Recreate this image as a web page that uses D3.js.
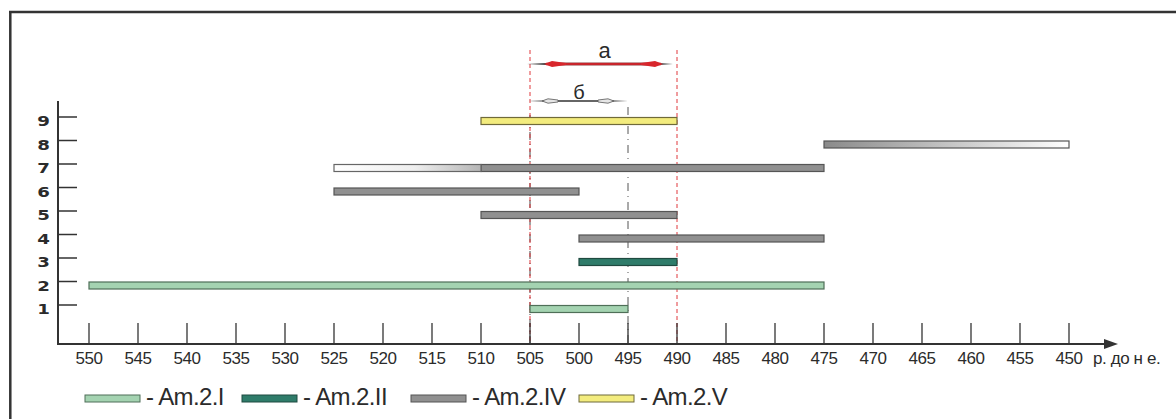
<!DOCTYPE html>
<html><head><meta charset="utf-8">
<script src="https://cdn.jsdelivr.net/npm/d3@7"></script>
<style>
html,body{margin:0;padding:0;background:#fff;}
svg{display:block;}
text{font-family:"Liberation Sans",Arial,sans-serif;fill:#2b2b2b;}
</style></head>
<body>
<svg id="chart" width="1176" height="419"></svg>
<script>
// ---- data ----
const rows      = [1, 2, 3, 4, 5, 6, 7, 8, 9];
const startYear = [505, 550, 500, 500, 510, 525, 510, 475, 510];
const endYear   = [495, 475, 490, 475, 490, 500, 475, 450, 490];
const series    = ["Am.2.I","Am.2.I","Am.2.II","Am.2.IV","Am.2.IV","Am.2.IV","Am.2.IV","Am.2.IV","Am.2.V"];
// faded (uncertain) parts of bars: [row, from, to, direction]
const fadedRows  = [7, 8];
const fadedFrom  = [525, 475];
const fadedTo    = [510, 450];
const fadedDir   = ["in", "out"];
const xTicks = [550,545,540,535,530,525,520,515,510,505,500,495,490,485,480,475,470,465,460,455,450];
const yTicks = [1,2,3,4,5,6,7,8,9];
const legendNames = ["Am.2.I","Am.2.II","Am.2.IV","Am.2.V"];
const intervalA = [505, 490];
const intervalB = [505, 495];
const xUnit = "р. до н е.";

// ---- styles ----
const fillOf = {"Am.2.I":"#a4d3b1","Am.2.II":"#2f7c6a","Am.2.IV":"#909090","Am.2.V":"#f3ec7e"};
const strokeOf = {"Am.2.I":"#4f6f58","Am.2.II":"#1f4a40","Am.2.IV":"#555","Am.2.V":"#6f6a3a"};

const svg = d3.select("#chart");
const x = d3.scaleLinear().domain([550, 450]).range([89, 1069]);
const y = d3.scaleLinear().domain([0, 9]).range([332.5, 121]);
const axisY = 344, axisX = 58;

// gradients
const defs = svg.append("defs");
const gIn = defs.append("linearGradient").attr("id","fadeIn");
gIn.append("stop").attr("offset","0%").attr("stop-color","#ffffff");
gIn.append("stop").attr("offset","55%").attr("stop-color","#eeeeee");
gIn.append("stop").attr("offset","100%").attr("stop-color","#b5b5b5");
const gOut = defs.append("linearGradient").attr("id","fadeOut");
gOut.append("stop").attr("offset","0%").attr("stop-color","#8a8a8a");
gOut.append("stop").attr("offset","60%").attr("stop-color","#cfcfcf");
gOut.append("stop").attr("offset","100%").attr("stop-color","#ffffff");

// frame (top and left edges)
svg.append("line").attr("x1",9).attr("x2",1176).attr("y1",12).attr("y2",12)
  .attr("stroke","#333").attr("stroke-width",2.5);
svg.append("line").attr("x1",10.3).attr("x2",10.3).attr("y1",11).attr("y2",419)
  .attr("stroke","#333").attr("stroke-width",2.5);

// reference verticals
const refs = svg.append("g");
refs.append("line").attr("x1",x(505)).attr("x2",x(505)).attr("y1",115).attr("y2",axisY)
  .attr("stroke","#444").attr("stroke-width",1).attr("stroke-dasharray","8,4,1,4");
refs.append("line").attr("x1",x(495)).attr("x2",x(495)).attr("y1",107).attr("y2",axisY)
  .attr("stroke","#555").attr("stroke-width",1).attr("stroke-dasharray","8,5,1,5");
[intervalA[0], intervalA[1]].forEach(v=>{
  refs.append("line").attr("x1",x(v)).attr("x2",x(v)).attr("y1",50).attr("y2",axisY)
    .attr("stroke","#e0383c").attr("stroke-width",1).attr("stroke-dasharray","4,3");
});

// bars
const bars = svg.append("g");
const bh = 7;
rows.forEach((r,i)=>{
  const isFadedFull = fadedRows.indexOf(r)>=0 && fadedFrom[fadedRows.indexOf(r)]===startYear[i];
  bars.append("rect")
    .attr("x", x(startYear[i])).attr("y", y(r)-bh/2)
    .attr("width", x(endYear[i])-x(startYear[i])).attr("height", bh)
    .attr("fill", isFadedFull ? "url(#fadeOut)" : fillOf[series[i]])
    .attr("stroke", strokeOf[series[i]]).attr("stroke-width",1.2);
});
fadedRows.forEach((r,j)=>{
  const i = rows.indexOf(r);
  if (fadedFrom[j]===startYear[i]) return;
  bars.append("rect")
    .attr("x", x(fadedFrom[j])).attr("y", y(r)-bh/2)
    .attr("width", x(fadedTo[j])-x(fadedFrom[j])).attr("height", bh)
    .attr("fill", fadedDir[j]==="in" ? "url(#fadeIn)" : "url(#fadeOut)")
    .attr("stroke","#666").attr("stroke-width",1.2);
});

// y axis
svg.append("line").attr("x1",axisX).attr("x2",axisX).attr("y1",101).attr("y2",axisY+1)
  .attr("stroke","#333").attr("stroke-width",2);
const yt = svg.append("g");
yTicks.forEach(k=>{
  const ty = y(k)-4;
  yt.append("line").attr("x1",axisX).attr("x2",77).attr("y1",ty).attr("y2",ty)
    .attr("stroke","#333").attr("stroke-width",1.5);
  yt.append("text").attr("transform",`translate(50,${ty+9}) scale(1.3,1)`).attr("text-anchor","end")
    .style("font-family","DejaVu Sans").style("font-weight","bold").style("font-size","14px")
    .attr("fill","#333").text(k);
});

// x axis
svg.append("line").attr("x1",axisX-1).attr("x2",1106).attr("y1",axisY).attr("y2",axisY)
  .attr("stroke","#333").attr("stroke-width",2);
svg.append("path").attr("d",`M1104,${axisY-5}L1118,${axisY}L1104,${axisY+5}Z`).attr("fill","#333");
const xt = svg.append("g");
xTicks.forEach(v=>{
  xt.append("line").attr("x1",x(v)).attr("x2",x(v)).attr("y1",323).attr("y2",axisY)
    .attr("stroke","#333").attr("stroke-width",1.3);
  xt.append("text").attr("x",x(v)).attr("y",364).attr("text-anchor","middle")
    .style("font-size","17px").style("letter-spacing","-0.5px").attr("fill","#3a3a3a").text(v);
});
svg.append("text").attr("x",x(450)+24).attr("y",364).style("font-size","17px")
  .style("letter-spacing","-0.4px").attr("fill","#3a3a3a").text(xUnit);

// interval arrow a
const ay = 64, ax1 = x(intervalA[0]), ax2 = x(intervalA[1]);
svg.append("path").attr("d",`M${ax1-3},${ay}L${ax1+25},${ay-1.2}L${ax2-25},${ay-1.2}L${ax2-4},${ay}L${ax2-25},${ay+1.2}L${ax1+25},${ay+1.2}Z`)
  .attr("fill","#222");
svg.append("line").attr("x1",ax1+16).attr("x2",ax2-16).attr("y1",ay).attr("y2",ay)
  .attr("stroke","#c8252b").attr("stroke-width",2.6);
[[ax1+22,1],[ax2-22,-1]].forEach(([px,d])=>{
  svg.append("path").attr("d",`M${px-d*8},${ay}L${px},${ay-3}L${px+d*14},${ay-1}L${px+d*14},${ay+1}L${px},${ay+3}Z`)
    .attr("fill","#d8262c");
});
svg.append("text").attr("x",(ax1+ax2)/2+1).attr("y",58).attr("text-anchor","middle")
  .style("font-size","22px").attr("fill","#333").text("a");

// interval arrow б
const by = 101, bx1 = x(intervalB[0]), bx2 = x(intervalB[1]);
svg.append("path").attr("d",`M${bx1-2},${by}L${bx1+20},${by-0.8}L${bx2-20},${by-0.8}L${bx2},${by}L${bx2-20},${by+0.8}L${bx1+20},${by+0.8}Z`)
  .attr("fill","#333");
[[bx1+18,1],[bx2-20,-1]].forEach(([px,d])=>{
  svg.append("path").attr("d",`M${px-d*6},${by}L${px},${by-2.2}L${px+d*10},${by-1}L${px+d*10},${by+1}L${px},${by+2.2}Z`)
    .attr("fill","#e6e6e6").attr("stroke","#555").attr("stroke-width",0.8);
});
svg.append("text").attr("x",579).attr("y",99).attr("text-anchor","middle")
  .style("font-size","20px").attr("fill","#333").text("б");

// legend
const legX = [85, 242, 411, 579];
const lg = svg.append("g");
legendNames.forEach((n,i)=>{
  lg.append("rect").attr("x",legX[i]).attr("y",395).attr("width",55).attr("height",7)
    .attr("fill",fillOf[n]).attr("stroke",strokeOf[n]).attr("stroke-width",1);
  lg.append("text").attr("x",legX[i]+61).attr("y",405).style("font-size","24px")
    .style("letter-spacing","-0.6px").attr("fill","#2b2b2b").text("- " + n);
});
</script>
</body></html>
